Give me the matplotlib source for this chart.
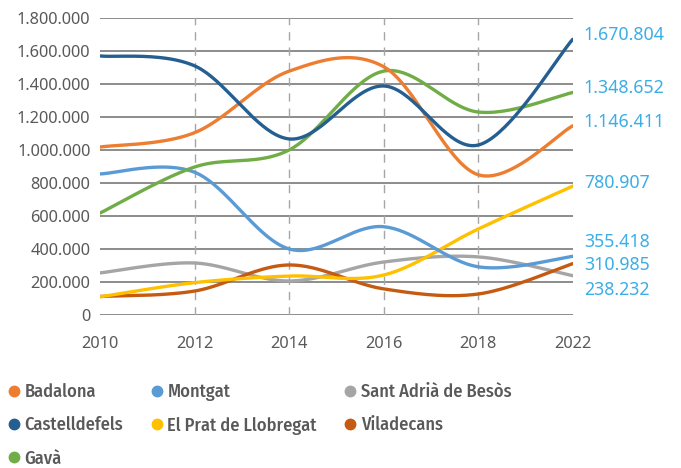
import numpy as np
import matplotlib
matplotlib.use("Agg")
import matplotlib.pyplot as plt
from matplotlib.ticker import FuncFormatter
from matplotlib.lines import Line2D

years = ["2010", "2012", "2014", "2016", "2018", "2022"]
badalona = [1018000, 1105000, 1478000, 1505000, 850000, 1146411]
castelldefels = [1570000, 1510000, 1067000, 1388000, 1030000, 1670804]
gava = [618000, 897000, 1000000, 1478000, 1230000, 1348652]
montgat = [855000, 865000, 400000, 535000, 292000, 355418]
sant_adria = [255000, 315000, 206000, 321000, 352000, 238232]
el_prat = [110000, 196000, 236000, 242000, 521000, 780907]
viladecans = [112000, 145000, 303000, 158000, 127000, 310985]

series = [
    ("Badalona", badalona, "#ED7D31"),
    ("Montgat", montgat, "#5B9BD5"),
    ("Sant Adrià de Besòs", sant_adria, "#A5A5A5"),
    ("Castelldefels", castelldefels, "#255E91"),
    ("El Prat de Llobregat", el_prat, "#FFC000"),
    ("Viladecans", viladecans, "#C55A11"),
    ("Gavà", gava, "#70AD47"),
]

def smooth(xs, ys, n=40):
    xs = np.asarray(xs, float); ys = np.asarray(ys, float)
    P = np.column_stack([xs, ys])
    Pe = np.vstack([P[0], P, P[-1]])
    out = []
    t = np.linspace(0, 1, n)[:, None]
    for i in range(len(P) - 1):
        p0 = P[i]; p3 = P[i + 1]
        c1 = p0 + (Pe[i + 2] - Pe[i]) / 6.0
        c2 = p3 - (Pe[i + 3] - Pe[i + 1]) / 6.0
        seg = ((1 - t) ** 3) * p0 + 3 * ((1 - t) ** 2) * t * c1 + 3 * (1 - t) * t ** 2 * c2 + t ** 3 * p3
        out.append(seg if i == 0 else seg[1:])
    S = np.vstack(out)
    return S[:, 0], S[:, 1]

plt.rcParams['font.family'] = ['Noto Sans', 'DejaVu Sans']
fig = plt.figure(figsize=(6.81, 4.68), dpi=100)
ax = fig.add_axes([0.147, 0.327, 0.694, 0.6345])

x = np.arange(len(years))
for yv in range(0, 1800001, 200000):
    ax.axhline(yv, color="#8C8C8C", lw=1.4, zorder=1)
for xv in x[1:-1]:
    ax.axvline(xv, color="#A6A6A6", lw=1.0, ls=(0, (6, 5)), zorder=1)

draw_order = ["Sant Adrià de Besòs", "Viladecans", "El Prat de Llobregat", "Montgat", "Gavà", "Badalona", "Castelldefels"]
sd = {s[0]: s for s in series}
for name in draw_order:
    n, vals, col = sd[name]
    sx, sy = smooth(x, vals)
    ax.plot(sx, sy, color=col, lw=2.4, solid_capstyle="round", zorder=3)

ax.set_xlim(0, len(years) - 1)
ax.set_ylim(0, 1800000)
ax.set_xticks(x)
ax.set_xticklabels(years)
ax.set_yticks(range(0, 1800001, 200000))
ax.yaxis.set_major_formatter(FuncFormatter(lambda v, p: f"{int(v):,}".replace(",", ".")))
for s in ax.spines.values():
    s.set_visible(False)
ax.tick_params(length=0, labelsize=11.8, colors="#595959")
ax.tick_params(axis="x", pad=15)
ax.tick_params(axis="y", pad=7)

label_offsets = {
    "Castelldefels": 3, "Gavà": 3, "Badalona": 3, "El Prat de Llobregat": 2.5,
    "Montgat": 10.5, "Viladecans": -1, "Sant Adrià de Besòs": -10.5,
}
for name, vals, col in series:
    v = vals[-1]
    ax.annotate(f"{v:,}".replace(",", "."), xy=(x[-1], v), xytext=(8, label_offsets[name]),
                textcoords="offset points", va="center", ha="left",
                color="#3BAEE6", fontsize=12.8, annotation_clip=False)

order = ["Badalona", "Castelldefels", "Gavà", "Montgat", "El Prat de Llobregat", "Sant Adrià de Besòs", "Viladecans"]
handles = [Line2D([], [], ls="none", marker="o", markersize=7.5, color=sd[n][2]) for n in order]
leg = fig.legend(handles, order, ncol=3, loc="upper left", bbox_to_anchor=(0.0, 0.197),
                 frameon=False, handletextpad=0.2, columnspacing=1.45, labelspacing=0.85,
                 handlelength=0.75, borderaxespad=0,
                 prop={"family": ["Fira Sans Condensed", "Roboto Condensed", "Noto Sans"],
                       "size": 13.2, "weight": 500})
for t in leg.get_texts():
    t.set_color("#595959")

fig.savefig("out.png", dpi=100)
